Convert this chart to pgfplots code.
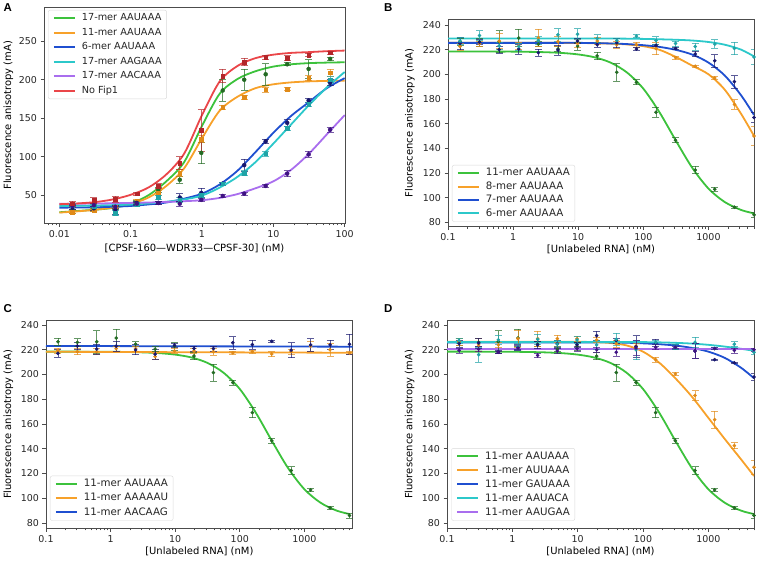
\documentclass[border=0pt]{standalone}
\usepackage{fontspec}
\setmainfont{DejaVu Sans}
\newfontfamily\panelfont{Liberation Sans}
\usepackage{pgfplots}
\usepackage{pgfplotstable}
\pgfplotsset{compat=1.18}

% line colours
\definecolor{cG}{HTML}{3CC23C}
\definecolor{cO}{HTML}{F7A12A}
\definecolor{cB}{HTML}{1F4FD0}
\definecolor{cC}{HTML}{2CC8CA}
\definecolor{cP}{HTML}{A96EEE}
\definecolor{cR}{HTML}{EA4649}
% point colours
\definecolor{dG}{HTML}{236B23}
\definecolor{dO}{HTML}{E08A18}
\definecolor{dB}{HTML}{17176E}
\definecolor{dC}{HTML}{1FA3A6}
\definecolor{dP}{HTML}{3F1282}
\definecolor{dR}{HTML}{B3262A}

% 11-mer AAUAAA competition data, shared by B, C and D
\pgfplotstableread{
x y e
0.153 226.5 3
0.305 226 3
0.61 226.5 9
1.22 229.5 7
2.44 224.5 2
4.88 220.5 2
9.77 222.8 3
19.53 214.9 3
39.06 201.6 7
78.13 193.5 2
156.3 169.2 4
312.5 146.5 2
625 122.4 3
1250 106.8 1.5
2500 92.2 1
5000 86 2
}\ptsG

% fitted 11-mer AAUAAA curve, shared by B, C and D
\pgfplotstableread{
x y
0.1 218.5
0.1778 218.5
0.3162 218.5
0.5623 218.4
1 218.4
1.778 218.2
3.162 217.9
5.623 217.3
10 216.1
17.78 213.8
31.62 209.4
56.23 201.4
100 188.3
177.8 169
316.2 146.1
562.3 124.2
1000 107.3
1778 96.4
3162 90
5000 87.2
}\fitG

\pgfplotsset{
  scale only axis,
  axis line style={black!70, line width=0.8bp},
  tick align=outside, xtick pos=bottom, ytick pos=left,
  major tick length=3.5bp, minor tick length=2bp,
  every tick/.style={black!70, line width=0.7bp},
  tick label style={font=\fontsize{9.5}{11}\selectfont, text=black!85},
  label style={font=\fontsize{10.5}{12}\selectfont, text=black!85},
  /pgf/number format/assume math mode=true,
  legend style={draw=black!15, rounded corners=2bp, fill=white,
    font=\fontsize{9.75}{11}\selectfont, text=black!85,
    nodes={inner xsep=4bp, inner ysep=1.5bp, text height=7.2bp, text depth=2bp},
    row sep=2.3bp, column sep=2bp, inner xsep=1bp, inner ysep=2bp},
  legend cell align=left,
  legend image code/.code={\path (0bp,0bp); \draw[#1, line width=2bp] (3.7bp,0bp) -- (24.8bp,0bp);},
  every axis y label/.style={rotate=90, anchor=center},
  every axis x label/.style={anchor=center},
  crv/.style={smooth, no marks, line width=1.8bp, color=#1},
  dat/.style={only marks, mark=*, mark size=1.6bp, color=#1, forget plot,
    /pgfplots/error bars/y dir=both, /pgfplots/error bars/y explicit,
    /pgfplots/error bars/error bar style={#1, line width=0.7bp, opacity=0.7},
    /pgfplots/error bars/error mark options={#1, rotate=90, mark size=3.5bp, line width=0.7bp, opacity=0.7}},
}

\begin{document}
\begin{tikzpicture}
\path[use as bounding box] (0,0) rectangle (758bp,-561bp);

% ---------------- A
\node[font=\panelfont\bfseries\fontsize{11.5}{12}\selectfont, anchor=base west] at (0bp,-11bp) {A};
\begin{semilogxaxis}[at={(44bp,-223.3bp)}, anchor=south west, width=301bp, height=216bp,
  xmin=0.0061, xmax=101, ymin=13.5, ymax=294,
  xtick={0.01,0.1,1,10,100}, xticklabels={0.01,0.1,1,10,100},
  minor xtick={0.007,0.008,0.009,0.02,0.03,0.04,0.05,0.06,0.07,0.08,0.09,0.2,0.3,0.4,0.5,0.6,0.7,0.8,0.9,2,3,4,5,6,7,8,9,20,30,40,50,60,70,80,90},
  ytick={50,100,150,200,250},
  xlabel={[CPSF-160—WDR33—CPSF-30] (nM)},
  ylabel={Fluorescence anisotropy (mA)},
  xlabel style={at={(axis description cs:0.5,-0.1157)}},
  ylabel style={at={(axis description cs:-0.1186,0.5)}},
  legend style={at={(axis description cs:0.0133,0.9875)}, anchor=north west}]
\addplot[crv=cG] table {
x y
0.01 27.8
0.01778 29.5
0.03162 31.2
0.05623 33.5
0.1 39
0.1778 50
0.3162 68
0.5623 93
1 140
1.778 182
3.162 201
5.623 211
10 217
17.78 220
31.62 221.5
56.23 222.2
100 222.6
};
\addlegendentry{17-mer AAUAAA}
\addplot[crv=cO] table {
x y
0.01 27.4
0.01778 29
0.03162 31
0.05623 34
0.1 38.5
0.1778 47
0.3162 62
0.5623 85
1 124
1.778 160
3.162 178
5.623 189
10 194
17.78 196.5
31.62 197.8
56.23 198.4
100 198.7
};
\addlegendentry{11-mer AAUAAA}
\addplot[crv=cB] table {
x y
0.01 33.8
0.01778 34
0.03162 34.3
0.05623 35
0.1 36
0.1778 38
0.3162 40.5
0.5623 45.5
1 52
1.778 64
3.162 82
5.623 106
10 131
17.78 153
31.62 171
56.23 189
100 202
};
\addlegendentry{6-mer AAUAAA}
\addplot[crv=cC] table {
x y
0.01 36
0.01778 36.2
0.03162 36.6
0.05623 37.1
0.1 37.8
0.1778 39.3
0.3162 41.5
0.5623 44.5
1 49.5
1.778 60
3.162 74
5.623 93
10 117
17.78 142
31.62 167
56.23 190
100 210
};
\addlegendentry{17-mer AAGAAA}
\addplot[crv=cP] table {
x y
0.01 39
0.01778 39
0.03162 39.2
0.05623 39.5
0.1 40
0.1778 40.5
0.3162 41.2
0.5623 42.2
1 43.5
1.778 46.5
3.162 51.5
5.623 59
10 68
17.78 83
31.62 104
56.23 129
100 154
};
\addlegendentry{17-mer AACAAA}
\addplot[crv=cR] table {
x y
0.01 38.3
0.01778 39.3
0.03162 41
0.05623 44.5
0.1 50.5
0.1778 60
0.3162 77
0.5623 104
1 154
1.778 198
3.162 218
5.623 228
10 232.5
17.78 234.8
31.62 235.8
56.23 237
100 237.8
};
\addlegendentry{No Fip1}
\addplot[dat=dG, mark size=2bp] table[y error=e] {
x y e
0.0153 29 2
0.0305 31 2
0.061 33 2
0.122 41 2
0.244 57 3
0.488 70 4
0.977 105 14
1.953 186 14
3.906 200 14
7.81 207 14
15.63 220 2
31.25 214 12
62.5 227 2
};
\addplot[dat=dO, mark=square*, mark size=1.9bp] table[y error=e] {
x y e
0.0153 28 2
0.0305 31 2
0.061 35 2
0.122 42 2
0.244 53 3
0.488 79 4
0.977 123 5
1.953 164 3
3.906 177 3
7.81 187 3
15.63 188 2
31.25 202 3
62.5 209 5
};
\addplot[dat=dB, mark size=2bp] table[y error=e] {
x y e
0.0153 34 3
0.0305 33 3
0.061 31 6
0.122 40 2
0.244 40 2
0.488 47 5
0.977 53 6
1.953 65 2
3.906 89 8
7.81 120 3
15.63 144 4
31.25 173 3
62.5 196 4
};
\addplot[dat=dC, mark=square*, mark size=1.9bp] table[y error=e] {
x y e
0.0153 37 3
0.0305 36 2
0.061 27 3
0.122 38 2
0.244 47 3
0.488 44 3
0.977 50 3
1.953 65 2
3.906 79 3
7.81 104 3
15.63 137 3
31.25 168 3
62.5 200 4
};
\addplot[dat=dP, mark size=2bp] table[y error=e] {
x y e
0.0153 36 2
0.0305 37 2
0.061 35 2
0.122 39 2
0.244 40 2
0.488 39 3
0.977 44 2
1.953 49 2
3.906 52 2
7.81 62 2
15.63 78 4
31.25 103 4
62.5 135 3
};
\addplot[dat=dR, mark=square*, mark size=1.9bp] table[y error=e] {
x y e
0.0153 39 3
0.0305 43 4
0.061 45 4
0.122 52 2
0.244 62 3
0.488 92 8
0.977 134 27
1.953 205 9
3.906 223 5
7.81 229 3
15.63 228 3
31.25 232 2
62.5 235 2
};
\end{semilogxaxis}

% ---------------- B
\node[font=\panelfont\bfseries\fontsize{11.5}{12}\selectfont, anchor=base west] at (380.5bp,-11bp) {B};
\begin{semilogxaxis}[at={(448bp,-226.7bp)}, anchor=south west, width=306bp, height=207.4bp,
  xmin=0.1, xmax=5000, ymin=76.4, ymax=244.6,
  xtick={0.1,1,10,100,1000}, xticklabels={0.1,1,10,100,1000},
  minor xtick={0.2,0.3,0.4,0.5,0.6,0.7,0.8,0.9,2,3,4,5,6,7,8,9,20,30,40,50,60,70,80,90,200,300,400,500,600,700,800,900,2000,3000,4000,5000},
  ytick={80,100,...,240},
  xlabel={[Unlabeled RNA] (nM)},
  ylabel={Fluorescence anisotropy (mA)},
  xlabel style={at={(axis description cs:0.5,-0.109)}},
  ylabel style={at={(axis description cs:-0.125,0.5)}},
  legend style={at={(axis description cs:0.013,0.024)}, anchor=south west,
    font=\fontsize{10.3}{12}\selectfont, row sep=1.2bp}]
\addplot[crv=cG] table {\fitG};
\addlegendentry{11-mer AAUAAA}
\addplot[crv=cO] table {
x y
0.1 225.6
0.1778 225.6
0.3162 225.6
0.5623 225.6
1 225.6
1.778 225.6
3.162 225.5
5.623 225.5
10 225.4
17.78 225.2
31.62 224.9
56.23 224.2
100 222.8
177.8 219.8
316.2 214
562.3 207
1000 200
1778 187.5
3162 168
5000 150
};
\addlegendentry{8-mer AAUAAA}
\addplot[crv=cB] table {
x y
0.1 225.5
0.1778 225.5
0.3162 225.5
0.5623 225.5
1 225.5
1.778 225.5
3.162 225.5
5.623 225.5
10 225.5
17.78 225.3
31.62 225
56.23 224.5
100 223.6
177.8 222.2
316.2 219.8
562.3 216
1000 209.5
1778 199
3162 183
5000 167
};
\addlegendentry{7-mer AAUAAA}
\addplot[crv=cC] table {
x y
0.1 229
0.1778 229
0.3162 229
0.5623 229
1 229
1.778 229
3.162 229
5.623 229
10 229
17.78 229
31.62 229
56.23 228.9
100 228.7
177.8 228.4
316.2 228
562.3 227.4
1000 226.2
1778 224
3162 220
5000 214.5
};
\addlegendentry{6-mer AAUAAA}
\addplot[dat=dG] table[y error=e] {\ptsG};
\addplot[dat=dO] table[y error=e] {
x y e
0.153 222.5 3
0.305 225 2
0.61 227 6
1.22 223 3
2.44 229.5 7
4.88 226.5 4
9.77 225 3
19.53 227 3
39.06 224 3
78.13 224 2
156.3 221 5
312.5 213.5 1
625 206.5 1
1250 197 1
2500 175.5 4
5000 150 8
};
\addplot[dat=dB] table[y error=e] {
x y e
0.153 225 5
0.305 226 2
0.61 220 3
1.22 220.5 4
2.44 217.5 3
4.88 219.7 4
9.77 227 2
19.53 224 2
39.06 225.5 4
78.13 220.5 1
156.3 223.5 1
312.5 221 1
625 216.5 2
1250 211 5
2500 194 5
5000 165 4
};
\addplot[dat=dC] table[y error=e] {
x y e
0.153 227 3
0.305 231.5 4
0.61 223 3
1.22 222.5 3
2.44 227.5 3
4.88 232 5
9.77 232.5 4.5
19.53 229 3
39.06 227.5 2
78.13 231 1
156.3 227.5 3
312.5 225 2
625 222.5 3
1250 224.5 3.5
2500 221 5
5000 214 6
};
\end{semilogxaxis}

% ---------------- C
\node[font=\panelfont\bfseries\fontsize{11.5}{12}\selectfont, anchor=base west] at (0bp,-312.3bp) {C};
\begin{semilogxaxis}[at={(46bp,-528.3bp)}, anchor=south west, width=306.7bp, height=207.6bp,
  xmin=0.1, xmax=5600, ymin=75.7, ymax=243.5,
  xtick={0.1,1,10,100,1000}, xticklabels={0.1,1,10,100,1000},
  minor xtick={0.2,0.3,0.4,0.5,0.6,0.7,0.8,0.9,2,3,4,5,6,7,8,9,20,30,40,50,60,70,80,90,200,300,400,500,600,700,800,900,2000,3000,4000,5000},
  ytick={80,100,...,240},
  xlabel={[Unlabeled RNA] (nM)},
  ylabel={Fluorescence anisotropy (mA)},
  xlabel style={at={(axis description cs:0.5,-0.1127)}},
  ylabel style={at={(axis description cs:-0.123,0.5)}},
  legend style={at={(axis description cs:0.013,0.0366)}, anchor=south west,
    font=\fontsize{10.3}{12}\selectfont, row sep=2bp}]
\addplot[crv=cG] table {\fitG};
\addlegendentry{11-mer AAUAAA}
\addplot[crv=cO] table {
x y
0.1 218.4
5600 217.6
};
\addlegendentry{11-mer AAAAAU}
\addplot[crv=cB] table {
x y
0.1 223.1
5600 222.5
};
\addlegendentry{11-mer AACAAG}
\addplot[dat=dG] table[y error=e] {\ptsG};
\addplot[dat=dO] table[y error=e] {
x y e
0.153 219.5 2
0.305 218.5 2.5
0.61 218.5 2.5
1.22 221 2
2.44 221 2
4.88 214.5 2.5
9.77 219 2
19.53 219 2
39.06 218.5 3
78.13 217.5 1
156.3 218.5 1
312.5 216.5 2
625 218.5 2
1250 223 4
2500 220 5
5000 217.5 1
};
\addplot[dat=dB] table[y error=e] {
x y e
0.153 217.1 3
0.305 223 3
0.61 220.6 4
1.22 223 4
2.44 220 4
4.88 216.5 4
9.77 223.6 2
19.53 221 2
39.06 221 2
78.13 225.7 5
156.3 224.2 3.5
312.5 226.9 0.5
625 219.7 6
1250 224 5
2500 224 4
5000 224.5 8
};
\end{semilogxaxis}

% ---------------- D
\node[font=\panelfont\bfseries\fontsize{11.5}{12}\selectfont, anchor=base west] at (380.5bp,-312.3bp) {D};
\begin{semilogxaxis}[at={(447bp,-528.3bp)}, anchor=south west, width=307bp, height=207.6bp,
  xmin=0.1, xmax=5000, ymin=75.7, ymax=243.5,
  xtick={0.1,1,10,100,1000}, xticklabels={0.1,1,10,100,1000},
  minor xtick={0.2,0.3,0.4,0.5,0.6,0.7,0.8,0.9,2,3,4,5,6,7,8,9,20,30,40,50,60,70,80,90,200,300,400,500,600,700,800,900,2000,3000,4000,5000},
  ytick={80,100,...,240},
  xlabel={[Unlabeled RNA] (nM)},
  ylabel={Fluorescence anisotropy (mA)},
  xlabel style={at={(axis description cs:0.5,-0.1127)}},
  ylabel style={at={(axis description cs:-0.1215,0.5)}},
  legend style={at={(axis description cs:0.014,0.0366)}, anchor=south west,
    font=\fontsize{10.3}{12}\selectfont, row sep=1.8bp}]
\addplot[crv=cG] table {\fitG};
\addlegendentry{11-mer AAUAAA}
\addplot[crv=cO] table {
x y
0.1 226.5
0.1778 226.5
0.3162 226.5
0.5623 226.5
1 226.5
1.778 226.5
3.162 226.5
5.623 226.5
10 226.5
17.78 226.2
31.62 225.5
56.23 223.5
100 218.5
177.8 209.5
316.2 196.7
562.3 182
1000 165
1778 148
3162 131.5
5000 118
};
\addlegendentry{11-mer AUUAAA}
\addplot[crv=cB] table {
x y
0.1 226
0.1778 226
0.3162 226
0.5623 226
1 226
1.778 226
3.162 226
5.623 226
10 226
17.78 226
31.62 226
56.23 225.7
100 225.2
177.8 224.5
316.2 223.4
562.3 221.5
1000 218.5
1778 213.5
3162 205.5
5000 197
};
\addlegendentry{11-mer GAUAAA}
\addplot[crv=cC] table {
x y
0.1 226.2
0.1778 226.2
0.3162 226.2
0.5623 226.2
1 226.2
1.778 226.2
3.162 226.2
5.623 226.2
10 226.2
17.78 226.2
31.62 226.2
56.23 226.2
100 226.2
177.8 226
316.2 225.6
562.3 225
1000 224
1778 222.6
3162 220.8
5000 219.2
};
\addlegendentry{11-mer AAUACA}
\addplot[crv=cP] table {
x y
0.1 220.4
5000 220.4
};
\addlegendentry{11-mer AAUGAA}
\addplot[dat=dG] table[y error=e] {\ptsG};
\addplot[dat=dO] table[y error=e] {
x y e
0.153 226.5 3
0.305 224 5
0.61 224 2
1.22 229 7
2.44 229 6
4.88 229 3
9.77 229 2
19.53 228 2
39.06 225 3
78.13 223 2
156.3 212 2
312.5 200.5 1
625 183 4
1250 163.5 7
2500 142.5 2.5
5000 125 6
};
\addplot[dat=dB] table[y error=e] {
x y e
0.153 225 3
0.305 225.5 4
0.61 218.5 1
1.22 222 2
2.44 224 3
4.88 225 3
9.77 224 2
19.53 231.5 3.5
39.06 227.5 2
78.13 222.5 9
156.3 225.5 3
312.5 222 2
625 219 6
1250 212 0.5
2500 209.5 0.5
5000 198 3
};
\addplot[dat=dC] table[y error=e] {
x y e
0.153 227.5 2
0.305 216 6
0.61 228 4
1.22 222.5 3
2.44 228.5 4
4.88 224.5 3
9.77 228 3
19.53 224 4
39.06 228.5 5
78.13 220 8
156.3 226 2
312.5 222 2
625 226 4
1250 221 1
2500 224.5 2
5000 218 2
};
\addplot[dat=dP] table[y error=e] {
x y e
0.153 219.5 2
0.305 220.5 2
0.61 218 1
1.22 221.5 2
2.44 215.5 2
4.88 219 2
9.77 221 2
19.53 220 2
39.06 218 3
78.13 221.5 6
156.3 222 2
312.5 222 1
625 219 6
1250 221 1
2500 219.5 2
5000 220 1
};
\end{semilogxaxis}
\end{tikzpicture}
\end{document}
